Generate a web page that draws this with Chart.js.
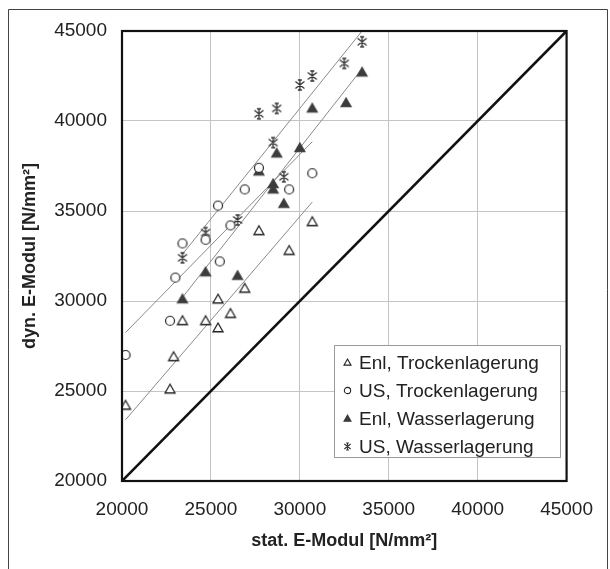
<!DOCTYPE html>
<html>
<head>
<meta charset="utf-8">
<script src="https://cdn.jsdelivr.net/npm/chart.js@4/dist/chart.umd.min.js"></script>
<style>
  html, body { margin: 0; padding: 0; background: #fff; }
  #wrap { width: 610px; height: 569px; position: relative; }
</style>
</head>
<body>
<div id="wrap"><canvas id="c"></canvas></div>
<script>
// ---------- data ----------
const seriesLabels = ['Enl, Trockenlagerung', 'US, Trockenlagerung', 'Enl, Wasserlagerung', 'US, Wasserlagerung'];

const xEnlTrocken = [20200, 22700, 22900, 23400, 24700, 25400, 25400, 26100, 26900, 27700, 29400, 30700];
const yEnlTrocken = [24200, 25100, 26900, 28900, 28900, 28500, 30100, 29300, 30700, 33900, 32800, 34400];

const xUSTrocken = [20200, 22700, 23000, 23400, 24700, 25400, 25500, 26100, 26900, 27700, 29400, 30700];
const yUSTrocken = [27000, 28900, 31300, 33200, 33400, 35300, 32200, 34200, 36200, 37400, 36200, 37100];

const xEnlWasser = [23400, 24700, 26500, 27700, 28500, 28500, 28700, 29100, 30000, 30700, 32600, 33500];
const yEnlWasser = [30100, 31600, 31400, 37200, 36500, 36200, 38200, 35400, 38500, 40700, 41000, 42700];

const xUSWasser = [23400, 24700, 26500, 27700, 28500, 28700, 29100, 30000, 30700, 32500, 33500];
const yUSWasser = [32400, 33800, 34500, 40400, 38800, 40700, 36900, 42000, 42500, 43200, 44400];

// trend lines (end points)
const xTrendEnlTrocken = [20200, 30700];
const yTrendEnlTrocken = [23400, 35500];
const xTrendUSTrocken = [20200, 30700];
const yTrendUSTrocken = [28250, 38850];
const xTrendEnlWasser = [23400, 33500];
const yTrendEnlWasser = [30200, 42900];
const xTrendUSWasser = [23400, 33500];
const yTrendUSWasser = [32600, 45000];

// 1:1 line
const xDiagonal = [20000, 45000];
const yDiagonal = [20000, 45000];

const axisTicks = [20000, 25000, 30000, 35000, 40000, 45000];
const xTitle = 'stat. E-Modul [N/mm²]';
const yTitle = 'dyn. E-Modul [N/mm²]';

// ---------- helpers ----------
function pts(xs, ys) { return xs.map((x, i) => ({ x: x, y: ys[i] })); }

function makeMarker(kind, size, lw) {
  const pad = 3;
  const c = document.createElement('canvas');
  c.width = c.height = size + pad * 2;
  const g = c.getContext('2d');
  const m = (size + pad * 2) / 2, r = size / 2;
  g.lineWidth = lw;
  g.strokeStyle = '#222';
  if (kind === 'tri' || kind === 'triF') {
    g.beginPath();
    g.moveTo(m, m - r);
    g.lineTo(m + r, m + r * 0.75);
    g.lineTo(m - r, m + r * 0.75);
    g.closePath();
    g.fillStyle = kind === 'triF' ? '#3c3c3c' : '#fff';
    if (kind === 'triF') g.strokeStyle = '#3c3c3c';
    g.fill(); g.stroke();
  } else if (kind === 'circ') {
    g.beginPath();
    g.arc(m, m, r * 0.9, 0, Math.PI * 2);
    g.fillStyle = '#fff';
    g.fill(); g.stroke();
  } else if (kind === 'star') {
    g.strokeStyle = '#333';
    const d = r * 0.9;
    g.beginPath();
    g.moveTo(m - d, m - d * 0.8); g.lineTo(m + d, m + d * 0.8);
    g.moveTo(m + d, m - d * 0.8); g.lineTo(m - d, m + d * 0.8);
    g.moveTo(m, m - r); g.lineTo(m, m + r);
    g.moveTo(m - d * 0.45, m - r); g.lineTo(m + d * 0.45, m - r);
    g.moveTo(m - d * 0.45, m + r); g.lineTo(m + d * 0.45, m + r);
    g.stroke();
  }
  return c;
}

const mk = {
  tri: makeMarker('tri', 10, 1.3),
  circ: makeMarker('circ', 10, 1.2),
  triF: makeMarker('triF', 10, 1.2),
  star: makeMarker('star', 10, 1.3)
};
const mkLegend = {
  tri: makeMarker('tri', 7, 1.1),
  circ: makeMarker('circ', 7, 1.1),
  triF: makeMarker('triF', 7, 1.1),
  star: makeMarker('star', 7, 1.1)
};
const kinds = ['tri', 'circ', 'triF', 'star'];

function scatterSet(label, xs, ys, kind) {
  return {
    type: 'scatter', label: label, data: pts(xs, ys),
    pointStyle: mk[kind], pointRadius: 5, pointHoverRadius: 5,
    showLine: false, order: 0, markerKind: kind
  };
}
function lineSet(xs, ys, color, width) {
  return {
    type: 'line', label: '', data: pts(xs, ys),
    borderColor: color, borderWidth: width, pointRadius: 0, pointHoverRadius: 0,
    fill: false, tension: 0, order: 1, isLine: true
  };
}

// ---------- plugins ----------
const framePlugin = {
  id: 'frame',
  beforeDraw(chart) {
    const ctx = chart.ctx;
    ctx.save();
    ctx.fillStyle = '#fff';
    ctx.fillRect(0, 0, chart.width, chart.height);
    ctx.strokeStyle = '#444';
    ctx.lineWidth = 1;
    ctx.beginPath();
    ctx.moveTo(8.5, 575); ctx.lineTo(8.5, 9.5); ctx.lineTo(607.5, 9.5); ctx.lineTo(607.5, 575);
    ctx.stroke();
    ctx.restore();
  },
  afterDatasetsDraw(chart) {
    const ctx = chart.ctx;
    const a = chart.chartArea;
    ctx.save();
    // plot border
    ctx.strokeStyle = '#111';
    ctx.lineWidth = 2.2;
    ctx.strokeRect(a.left, a.top, a.right - a.left, a.bottom - a.top);
    // legend box inside plot
    const bx = 334.5, by = 345.5, bw = 226, bh = 112;
    ctx.fillStyle = '#fff';
    ctx.fillRect(bx, by, bw, bh);
    ctx.strokeStyle = '#9a9a9a';
    ctx.lineWidth = 1;
    ctx.strokeRect(bx, by, bw, bh);
    ctx.font = '19px "Liberation Sans", Arial, sans-serif';
    ctx.fillStyle = '#222';
    ctx.textBaseline = 'middle';
    ctx.textAlign = 'left';
    const ds = chart.data.datasets.filter(d => !d.isLine);
    ds.forEach((d, i) => {
      const yy = by + 17 + i * 28;
      const img = mkLegend[d.markerKind];
      ctx.drawImage(img, Math.round(347 - img.width / 2), Math.round(yy - img.height / 2));
      ctx.fillText(d.label, 359, yy + 1);
    });
    ctx.restore();
  }
};

// ---------- chart ----------
const tickFont = { family: '"Liberation Sans", Arial, sans-serif', size: 19 };
const titleFont = { family: '"Liberation Sans", Arial, sans-serif', size: 18, weight: 'bold' };

new Chart(document.getElementById('c'), {
  type: 'scatter',
  data: {
    datasets: [
      scatterSet(seriesLabels[0], xEnlTrocken, yEnlTrocken, kinds[0]),
      scatterSet(seriesLabels[1], xUSTrocken, yUSTrocken, kinds[1]),
      scatterSet(seriesLabels[2], xEnlWasser, yEnlWasser, kinds[2]),
      scatterSet(seriesLabels[3], xUSWasser, yUSWasser, kinds[3]),
      lineSet(xTrendEnlTrocken, yTrendEnlTrocken, '#8a8a8a', 1),
      lineSet(xTrendUSTrocken, yTrendUSTrocken, '#8a8a8a', 1),
      lineSet(xTrendEnlWasser, yTrendEnlWasser, '#8a8a8a', 1),
      lineSet(xTrendUSWasser, yTrendUSWasser, '#8a8a8a', 1),
      lineSet(xDiagonal, yDiagonal, '#111', 2.6)
    ]
  },
  options: {
    responsive: true,
    maintainAspectRatio: false,
    animation: false,
    events: [],
    layout: { padding: { left: 8, top: 31, right: 37, bottom: 0 } },
    plugins: { legend: { display: false }, tooltip: { enabled: false } },
    scales: {
      x: {
        type: 'linear', min: 20000, max: 45000,
        afterBuildTicks: s => { s.ticks = axisTicks.map(v => ({ value: v })); },
        afterFit: s => { s.height = 88; },
        ticks: { font: tickFont, color: '#222', padding: 17, maxRotation: 0, callback: v => String(v) },
        grid: { color: '#c4c4c4', lineWidth: 1, drawTicks: false },
        border: { display: false },
        title: { display: true, text: xTitle, font: titleFont, color: '#222', padding: { top: 0, bottom: 17 } }
      },
      y: {
        type: 'linear', min: 20000, max: 45000,
        afterBuildTicks: s => { s.ticks = axisTicks.map(v => ({ value: v })); },
        afterFit: s => { s.width = 114; },
        ticks: { font: tickFont, color: '#222', padding: 15, callback: v => String(v) },
        grid: { color: '#c4c4c4', lineWidth: 1, drawTicks: false },
        border: { display: false },
        title: { display: true, text: yTitle, font: titleFont, color: '#222', padding: { top: 11, bottom: 0 } }
      }
    }
  },
  plugins: [framePlugin]
});
</script>
</body>
</html>
